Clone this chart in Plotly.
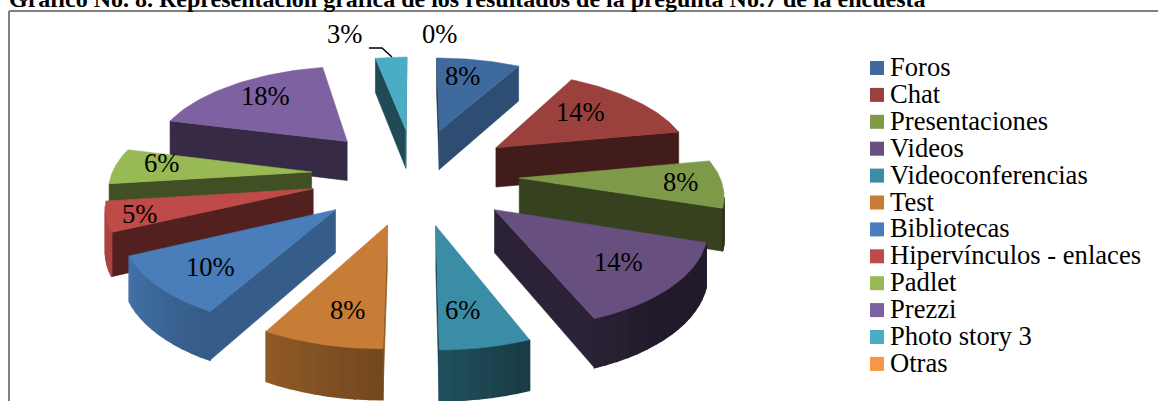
import numpy as np
import plotly.graph_objects as go

categories = ["Foros", "Chat", "Presentaciones", "Videos", "Videoconferencias", "Test",
              "Bibliotecas", "Hipervínculos - enlaces", "Padlet", "Prezzi", "Photo story 3", "Otras"]
values = [8, 14, 8, 14, 6, 8, 10, 5, 6, 18, 3, 0]
colors = ["#3E6A9E", "#9A403D", "#7E9A48", "#67507F", "#3A8DA5", "#C87D36",
          "#4A7EBB", "#BE4B48", "#98B954", "#7E61A0", "#4BACC6", "#F79646"]
label_px = [(462, 76), (580, 112), (680, 182), (618, 262), (462, 310), (347, 310),
            (210, 267), (139, 214), (161, 163), (265, 96), (344, 34), (439, 34)]
title = "Gráfico No. 8. Representación gráfica de los resultados de la pregunta No.7 de la encuesta"

# projection of the exploded pie
CX, CY, A, B, K, E, T = 415, 175, 200, 93, 0.13, 0.52, 41
FONT = "Liberation Serif"


def project(th, r, mid, drop=0.0):
    gx = E * np.sin(mid) + r * np.sin(th)
    gy = E * np.cos(mid) + r * np.cos(th)
    w = 1 + K * gy
    return CX + A * gx / w, CY - B * gy / w + drop * T / w


def shade(col, f):
    c = [int(col[i:i + 2], 16) for i in (1, 3, 5)]
    return "rgb(%d,%d,%d)" % tuple(round(v * f) for v in c)


def arc_factor(deg):
    return float(np.interp(deg, [108, 140, 158, 180, 209, 245, 290], [.33, .33, .41, .57, .72, .9, .9]))


def cut_factor(normal):
    return float(np.interp(normal % 360, [100, 119, 155, 260], [.73, .73, .43, .43]))


def area(pts):
    s = 0
    for (x0, y0), (x1, y1) in zip(pts, pts[1:] + pts[:1]):
        s += x0 * y1 - x1 * y0
    return s


fig = go.Figure()


def poly(pts, color, lw=0.6):
    fig.add_trace(go.Scatter(x=[p[0] for p in pts] + [pts[0][0]], y=[p[1] for p in pts] + [pts[0][1]],
                             mode="lines", fill="toself", fillcolor=color,
                             line=dict(color=color, width=lw), hoverinfo="skip", showlegend=False))


total = sum(values)
edges = np.cumsum([0] + values) / total * 360
slices = []
for i, v in enumerate(values):
    if v > 0:
        slices.append((i, edges[i], edges[i + 1]))
slices.sort(key=lambda s: -np.cos(np.radians((s[1] + s[2]) / 2)))

for i, a0, a1 in slices:
    col = colors[i]
    mid = np.radians((a0 + a1) / 2)
    degs = np.linspace(a0, a1, max(3, int((a1 - a0) / 3) + 1))
    fine = np.radians(np.linspace(a0, a1, 40))
    ths = np.radians(degs)
    apex0, apex1 = project(0, 0, mid), project(0, 0, mid, 1)
    # side faces, back faces culled
    q = [apex0, project(ths[0], 1, mid), project(ths[0], 1, mid, 1), apex1]
    if area(q) < 0:
        poly(q, shade(col, cut_factor(a0 - 90)))
    q = [project(ths[-1], 1, mid), apex0, apex1, project(ths[-1], 1, mid, 1)]
    if area(q) < 0:
        poly(q, shade(col, cut_factor(a1 + 90)))
    for d0, d1 in zip(degs[:-1], degs[1:]):
        t0, t1 = np.radians(d0), np.radians(d1)
        q = [project(t0, 1, mid), project(t1, 1, mid), project(t1, 1, mid, 1), project(t0, 1, mid, 1)]
        if area(q) < 0:
            poly(q, shade(col, arc_factor((d0 + d1) / 2)), lw=1.5)
    poly([apex0] + [project(t, 1, mid) for t in fine], col)

# leader line of the 3% label
fig.add_trace(go.Scatter(x=[369, 382, 392], y=[48, 48, 57], mode="lines", line=dict(color="black", width=1.5),
                         hoverinfo="skip", showlegend=False))

# legend
legend_y = [68 + 26.9 * i for i in range(len(categories))]
fig.add_trace(go.Scatter(x=[877] * len(categories), y=legend_y, mode="markers",
                         marker=dict(symbol="square", size=14, color=colors), hoverinfo="skip", showlegend=False))
annotations = [dict(x=888, y=y - 1, text=c, xanchor="left", yanchor="middle", showarrow=False,
                    font=dict(family=FONT, size=26.6, color="black"))
               for c, y in zip(categories, legend_y)]
annotations += [dict(x=x, y=y, text="%d%%" % v, xanchor="center", yanchor="middle", showarrow=False,
                     font=dict(family=FONT, size=26.6, color="black"))
                for v, (x, y) in zip(values, label_px)]
annotations.append(dict(x=7, y=0, yshift=1, text="<b>%s</b>" % title, xanchor="left", yanchor="middle",
                        showarrow=False, font=dict(family=FONT, size=24, color="black")))

fig.update_layout(
    width=1158, height=401, margin=dict(l=0, r=0, t=0, b=0),
    paper_bgcolor="white", plot_bgcolor="white", showlegend=False,
    xaxis=dict(range=[0, 1158], visible=False, fixedrange=True),
    yaxis=dict(range=[401, 0], visible=False, fixedrange=True),
    annotations=annotations,
    shapes=[
        dict(type="line", x0=9, x1=1158, y0=11, y1=11, line=dict(color="#808080", width=2)),
        dict(type="line", x0=9, x1=9, y0=11, y1=401, line=dict(color="#808080", width=2)),
    ],
)
fig.write_html("out.html", config=dict(displayModeBar=False), post_script="document.body.style.margin='0';")
